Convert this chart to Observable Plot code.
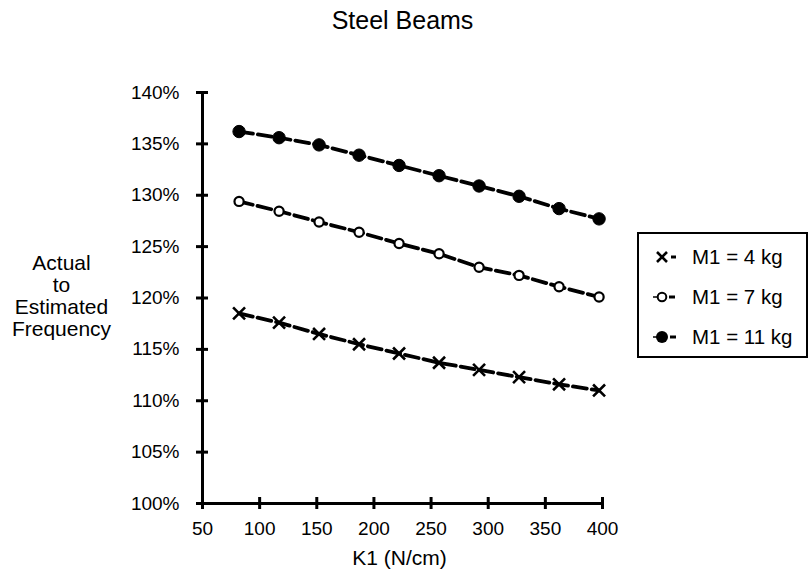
<!DOCTYPE html>
<html><head><meta charset="utf-8">
<script src="https://cdn.jsdelivr.net/npm/d3@7"></script>
<script src="https://cdn.jsdelivr.net/npm/@observablehq/plot@0.6"></script>
<style>
body{margin:0;background:#fff;}
#wrap{position:relative;width:810px;height:573px;font-family:"Liberation Sans",Arial,Helvetica,sans-serif;color:#000;}
#legend{position:absolute;left:637px;top:232px;width:167px;height:122px;border:2px solid #000;background:#fff;}
.row{position:absolute;left:0;height:24px;width:167px;}
.row svg{position:absolute;left:10px;top:2px;}
.row span{position:absolute;left:53px;top:0;line-height:24px;font-size:20.5px;white-space:nowrap;}
</style></head><body><div id="wrap"></div>
<script>
const title = "Steel Beams";
const xLabel = "K1 (N/cm)";
const yLabel = ["Actual", "to", "Estimated", "Frequency"];
const k1 = [82, 117, 152, 187, 222, 257, 292, 327, 362, 397];
const m4 = [118.5, 117.6, 116.5, 115.5, 114.6, 113.7, 113.0, 112.3, 111.6, 111.0];
const m7 = [129.4, 128.45, 127.4, 126.4, 125.3, 124.3, 123.0, 122.2, 121.1, 120.1];
const m11 = [136.2, 135.6, 134.9, 133.9, 132.9, 131.9, 130.9, 129.9, 128.7, 127.7];
const seriesNames = ["M1 = 4 kg", "M1 = 7 kg", "M1 = 11 kg"];
const xTicks = [50, 100, 150, 200, 250, 300, 350, 400];
const yTicks = [100, 105, 110, 115, 120, 125, 130, 135, 140];

const seriesVals = [m4, m7, m11];
const data = [];
seriesNames.forEach((s, i) => k1.forEach((k, j) => data.push({series: s, k: k, v: seriesVals[i][j]})));
const sel = s => data.filter(d => d.series === s);

const chart = Plot.plot({
  width: 810, height: 573,
  marginLeft: 202, marginRight: 208, marginTop: 92, marginBottom: 70,
  style: {fontFamily: '"Liberation Sans", Arial, Helvetica, sans-serif', fontSize: "19px", color: "#000", background: "#fff", overflow: "visible"},
  x: {domain: [xTicks[0], xTicks[xTicks.length - 1]]},
  y: {domain: [yTicks[0], yTicks[yTicks.length - 1]]},
  marks: [
    Plot.ruleX([xTicks[0]], {stroke: "#000", strokeWidth: 3}),
    Plot.ruleY([yTicks[0]], {stroke: "#000", strokeWidth: 3}),
    Plot.axisY({ticks: yTicks, tickSize: 12, dx: 6, tickPadding: 17, strokeWidth: 3, fontSize: 19, tickFormat: d => d + "%", label: null}),
    Plot.axisX({ticks: xTicks, tickSize: 12, dy: -6, tickPadding: 12, strokeWidth: 3, fontSize: 19, tickFormat: d => String(d), label: null}),
    Plot.line(data, {x: "k", y: "v", z: "series", stroke: "#000", strokeWidth: 3.8, strokeDasharray: "14,5"}),
    Plot.dot(sel(seriesNames[0]), {x: "k", y: "v", symbol: "times", r: 5.5, stroke: "#000", strokeWidth: 2.6}),
    Plot.dot(sel(seriesNames[1]), {x: "k", y: "v", symbol: "circle", r: 4.6, stroke: "#000", fill: "#fff", strokeWidth: 2.2}),
    Plot.dot(sel(seriesNames[2]), {x: "k", y: "v", symbol: "circle", r: 6.2, fill: "#000", stroke: "#000", strokeWidth: 1}),
    Plot.text([title], {frameAnchor: "top", dy: -72, fontSize: 25, lineAnchor: "middle", fill: "#000"}),
    Plot.text([xLabel], {frameAnchor: "bottom", dy: 55, dx: -3, fontSize: 21, lineAnchor: "middle", fill: "#000"}),
    Plot.text([yLabel.join("\n")], {frameAnchor: "left", dx: -141, dy: -2, fontSize: 21, lineHeight: 1.04, textAnchor: "middle", lineAnchor: "middle", fill: "#000"})
  ]
});

const wrap = document.getElementById("wrap");
wrap.appendChild(chart);

const legend = document.createElement("div");
legend.id = "legend";
const icons = [
  '<path d="M8,5 L18,15 M18,5 L8,15" stroke="#000" stroke-width="2.6" fill="none"/><line x1="22" y1="10" x2="27" y2="10" stroke="#000" stroke-width="3"/>',
  '<circle cx="13" cy="10" r="4.3" fill="#fff" stroke="#000" stroke-width="2"/><line x1="20" y1="10" x2="26" y2="10" stroke="#000" stroke-width="3"/><line x1="4" y1="10" x2="8" y2="10" stroke="#000" stroke-width="1.5"/>',
  '<circle cx="13" cy="10" r="6" fill="#000"/><line x1="21" y1="10" x2="27" y2="10" stroke="#000" stroke-width="3"/><line x1="4" y1="10" x2="8" y2="10" stroke="#000" stroke-width="1.5"/>'
];
const rowTops = [11, 51, 91];
seriesNames.forEach((s, i) => {
  const row = document.createElement("div");
  row.className = "row";
  row.style.top = rowTops[i] + "px";
  row.innerHTML = '<svg width="36" height="20">' + icons[i] + '</svg><span>' + s + '</span>';
  legend.appendChild(row);
});
wrap.appendChild(legend);
</script>
</body></html>
